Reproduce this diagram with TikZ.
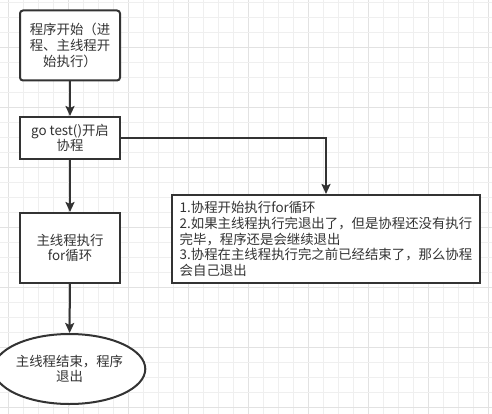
\documentclass[tikz,border=0pt]{standalone}
\usepackage{fontspec}
\setmainfont{Noto Sans CJK SC}
\usetikzlibrary{shapes.geometric,arrows.meta}
\definecolor{gridlight}{HTML}{EFEFEF}
\definecolor{griddark}{HTML}{E2E2E2}
\definecolor{ink}{HTML}{333333}
\tikzset{
  box/.style={draw=ink, line width=2pt, fill=white, text=ink, align=center,
    minimum width=100pt, inner sep=2pt, font=\fontsize{13.4pt}{15.6pt}\selectfont},
  conn/.style={draw=ink, line width=2pt, -{Stealth[length=10pt,width=9pt,inset=2pt]}},
}
\begin{document}
\begin{tikzpicture}[x=1pt,y=-1pt]
\useasboundingbox (0,0) rectangle (492,414);
\fill[white] (0,0) rectangle (492,414);
% grid
\foreach \i in {0,...,32} {
  \pgfmathtruncatemacro{\m}{mod(\i,4)}
  \ifnum\m=0 \def\gc{griddark}\else\def\gc{gridlight}\fi
  \draw[\gc, line width=1pt] (8+15*\i,0) -- (8+15*\i,414);
}
\foreach \i in {0,...,27} {
  \pgfmathtruncatemacro{\m}{mod(\i+1,4)}
  \ifnum\m=0 \def\gc{griddark}\else\def\gc{gridlight}\fi
  \draw[\gc, line width=1pt] (0,2.5+15*\i) -- (492,2.5+15*\i);
}
% nodes
\node[box, rounded corners=3pt, minimum height=70pt] (b1) at (70,45.5) {程序开始（进\\程、主线程开\\始执行）};
\node[box, minimum height=42pt] (b2) at (70,138) {go test()开启\\协程};
\node[box, minimum height=70pt] (b3) at (70,248) {主线程执行\\for循环};
\node[box, ellipse, minimum width=124pt, minimum height=70pt, inner sep=0pt] (e) at (69.5,369) {主线程结束，程序\\退出};
\node[box, minimum width=308pt, minimum height=88pt, align=left] (b4) at (326,239) {1.协程开始执行for循环\\2.如果主线程执行完退出了，但是协程还没有执行\\完毕，程序还是会继续退出\\3.协程在主线程执行完之前已经结束了，那么协程\\会自己退出};
% connectors
\draw[conn] (b1) -- (b2);
\draw[conn] (b2) -- (b3);
\draw[conn] (b3) -- (e);
\draw[conn] (b2.east) -| (b4.north);
\end{tikzpicture}
\end{document}
